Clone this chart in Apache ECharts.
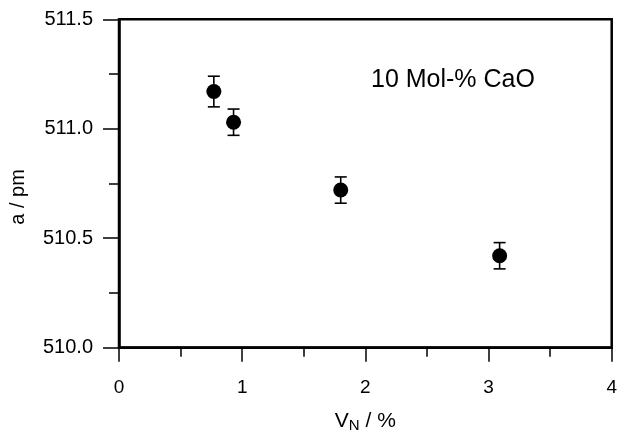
<!DOCTYPE html>
<html>
<head>
<meta charset="utf-8">
<script src="https://cdn.jsdelivr.net/npm/echarts@6/dist/echarts.min.js"></script>
<style>html,body{margin:0;padding:0;background:#fff}#c{width:620px;height:439px}</style>
</head>
<body>
<div id="c"></div>
<script>
const vN = [0.77, 0.93, 1.80, 3.09];
const aPm = [511.17, 511.03, 510.72, 510.42];
const errMinus = [0.07, 0.06, 0.06, 0.06];
const errPlus = [0.07, 0.06, 0.06, 0.06];
const xTicks = [0, 1, 2, 3, 4];
const yTicks = [510.0, 510.5, 511.0, 511.5];
const annotation = '10 Mol-% CaO';

const font = 'Liberation Sans, Arial, sans-serif';
const chart = echarts.init(document.getElementById('c'), null, {renderer: 'canvas'});

const pts = vN.map((x, i) => [x, aPm[i]]);
const errs = vN.map((x, i) => [x, aPm[i] - errMinus[i], aPm[i] + errPlus[i]]);

chart.setOption({
  animation: false,
  backgroundColor: '#fff',
  grid: {left: 116.5, right: 6, top: 19.3, bottom: 91.3, show: true, borderColor: '#000', borderWidth: 2.5, backgroundColor: 'transparent'},
  graphic: [{
    type: 'text', x: 371, y: 80, z: 10,
    style: {text: annotation, fontFamily: font, fontSize: 25, fill: '#000', verticalAlign: 'middle', align: 'left'}
  }],
  xAxis: {
    type: 'value', min: xTicks[0], max: xTicks[xTicks.length - 1], interval: 1,
    name: '{v|V}{s|N}{v| / %}', nameLocation: 'middle', nameGap: 61,
    nameTextStyle: {rich: {v: {fontFamily: font, fontSize: 21, color: '#000'}, s: {fontFamily: font, fontSize: 15, color: '#000', verticalAlign: 'bottom', padding: [10, 0, 0, 0]}}},
    axisLine: {lineStyle: {color: '#000', width: 2.5}},
    axisTick: {inside: false, length: 14, lineStyle: {color: '#000', width: 1.5}},
    minorTick: {show: true, splitNumber: 2, length: 9, lineStyle: {color: '#000', width: 1.5}},
    axisLabel: {margin: 31, fontFamily: font, fontSize: 19, color: '#000', formatter: v => String(v)},
    splitLine: {show: false}
  },
  yAxis: {
    type: 'value', min: yTicks[0], max: yTicks[yTicks.length - 1], interval: 0.5,
    name: 'a / pm', nameLocation: 'middle', nameGap: 91, nameRotate: 90,
    nameTextStyle: {fontFamily: font, fontSize: 20, color: '#000', padding: [0, 27, 0, 0]},
    axisLine: {lineStyle: {color: '#000', width: 2.5}},
    axisTick: {inside: false, length: 16, lineStyle: {color: '#000', width: 1.5}},
    minorTick: {show: true, splitNumber: 2, length: 10, lineStyle: {color: '#000', width: 1.5}},
    axisLabel: {margin: 26, fontFamily: font, fontSize: 20, color: '#000', formatter: v => v.toFixed(1)},
    splitLine: {show: false}
  },
  series: [
    {
      type: 'custom', data: errs, z: 2,
      renderItem: function (params, api) {
        const x = api.value(0), lo = api.value(1), hi = api.value(2);
        const pTop = api.coord([x, hi]);
        const pBot = api.coord([x, lo]);
        const w = 6;
        const st = {stroke: '#000', lineWidth: 1.6};
        return {type: 'group', children: [
          {type: 'line', shape: {x1: pTop[0], y1: pTop[1], x2: pBot[0], y2: pBot[1]}, style: st},
          {type: 'line', shape: {x1: pTop[0] - w, y1: pTop[1], x2: pTop[0] + w, y2: pTop[1]}, style: st},
          {type: 'line', shape: {x1: pBot[0] - w, y1: pBot[1], x2: pBot[0] + w, y2: pBot[1]}, style: st}
        ]};
      }
    },
    {
      type: 'scatter', data: pts, z: 3, symbol: 'circle', symbolSize: 15,
      itemStyle: {color: '#000', opacity: 1}
    }
  ]
});
</script>
</body>
</html>
